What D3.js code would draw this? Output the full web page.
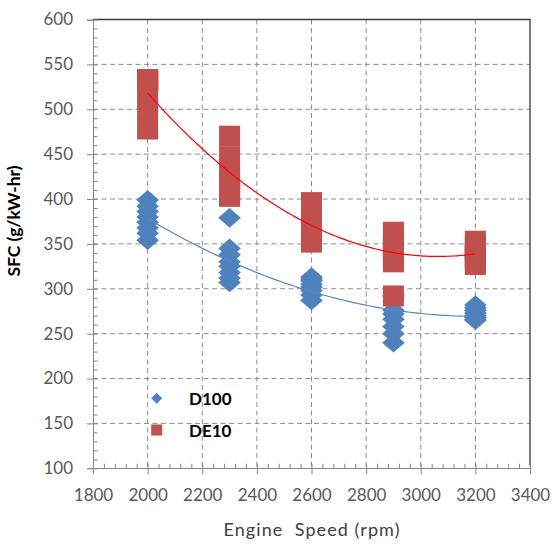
<!DOCTYPE html>
<html>
<head>
<meta charset="utf-8">
<script src="https://cdn.jsdelivr.net/npm/d3@7"></script>
<style>
  body { margin: 0; background: #fff; }
  text { font-family: Lato, "Liberation Sans", sans-serif; }
</style>
</head>
<body>
<script>
// Engine speeds (rpm) and SFC readings (g/kW-hr) at each speed
const speeds = [2000, 2300, 2600, 2900, 3200]
const d100 = [
  [399, 392, 386, 380, 374, 368, 362, 354],
  [379, 345, 338, 330, 325, 318, 312, 307],
  [313, 311, 309, 305, 302, 298, 293, 287],
  [240, 250, 258, 266, 272, 276, 292, 292],
  [282, 279, 276, 273, 270, 268, 266, 265]
]
const de10 = [
  [478, 500, 520, 530, 532, 533, 533, 533],
  [403, 405, 410, 415, 420, 425, 447, 470],
  [352, 360, 368, 375, 380, 385, 390, 396],
  [292, 330, 335, 340, 345, 350, 356, 363],
  [327, 330, 333, 336, 340, 344, 348, 353]
]
const xTicks = d3.range(1800, 3401, 200)
const yTicks = d3.range(100, 601, 50)
const seriesNames = ['D100', 'DE10']

const blue = '#4F81BD'
const red = '#C0504D'

// Size and margins
const W = 553, H = 545
const margin = { top: 19.5, right: 23, bottom: 76.7, left: 93 }
const width = W - margin.left - margin.right
const height = H - margin.top - margin.bottom

const svg = d3.select('body').append('svg')
    .attr('width', W)
    .attr('height', H)
    .style('background-color', '#fff')

const g = svg.append('g')
    .attr('transform', `translate(${margin.left},${margin.top})`)

const xScale = d3.scaleLinear().domain([1800, 3400]).range([0, width])
const yScale = d3.scaleLinear().domain([100, 600]).range([height, 0])

// flatten groups into points
const toPoints = arr => speeds.flatMap((s, i) => arr[i].map(v => ({ x: s, y: v })))
const ptsD100 = toPoints(d100)
const ptsDE10 = toPoints(de10)

// Gridlines
g.append('g').selectAll('line')
    .data(yTicks.filter(v => v > 100 && v < 600))
    .enter().append('line')
    .attr('x1', 0).attr('x2', width)
    .attr('y1', d => yScale(d)).attr('y2', d => yScale(d))
    .style('stroke', '#8c8c8c')
    .style('stroke-dasharray', '5,3.5')

g.append('g').selectAll('line')
    .data(xTicks.filter(v => v > 1800 && v < 3400))
    .enter().append('line')
    .attr('y1', 0).attr('y2', height)
    .attr('x1', d => xScale(d)).attr('x2', d => xScale(d))
    .style('stroke', '#8c8c8c')
    .style('stroke-dasharray', '5,3.5')

// Border top / right
g.append('path')
    .attr('d', `M0,0H${width}V${height - 3}`)
    .style('fill', 'none')
    .style('stroke', '#3a3a3a')
    .style('stroke-width', 1.3)

// Axes
const axisColor = '#868686'
const labelColor = '#595959'
const fmt = d3.format('d')

const yAxis = g.append('g')
    .call(d3.axisLeft(yScale).tickValues(yTicks).tickSize(6).tickPadding(14).tickFormat(fmt))
const yMinor = g.append('g')
    .call(d3.axisRight(yScale).tickValues(d3.range(100, 601, 10)).tickSize(4.5).tickFormat(''))
const xAxis = g.append('g')
    .attr('transform', `translate(0,${height})`)
    .call(d3.axisBottom(xScale).tickValues(xTicks).tickSize(6).tickPadding(15).tickFormat(fmt))
const xMinor = g.append('g')
    .attr('transform', `translate(0,${height})`)
    .call(d3.axisTop(xScale).tickValues(d3.range(1800, 3401, 40)).tickSize(4.5).tickFormat(''))

;[yAxis, yMinor, xAxis, xMinor].forEach(a => {
    a.select('.domain').style('stroke', axisColor).attr('shape-rendering', 'crispEdges')
    a.selectAll('.tick line').style('stroke', axisColor)
    a.selectAll('text')
        .style('font-size', '17px')
        .style('fill', labelColor)
})
yMinor.select('.domain').remove()
xMinor.select('.domain').remove()

// Markers
const diamond = 'M0,-9.8L11.3,0L0,9.8L-11.3,0Z'
g.append('g').selectAll('path')
    .data(ptsD100)
    .enter().append('path')
    .attr('d', diamond)
    .attr('transform', d => `translate(${xScale(d.x)},${yScale(d.y)})`)
    .style('fill', blue)

g.append('g').selectAll('rect')
    .data(ptsDE10)
    .enter().append('rect')
    .attr('x', d => xScale(d.x) - 10.5)
    .attr('y', d => yScale(d.y) - 10.5)
    .attr('width', 21)
    .attr('height', 21)
    .style('fill', red)

// Polynomial (order 2) trendlines, least squares
function quadFit(pts) {
    const x0 = d3.mean(pts, p => p.x), sc = 300
    const S = [[0, 0, 0], [0, 0, 0], [0, 0, 0]], B = [0, 0, 0]
    pts.forEach(p => {
        const t = (p.x - x0) / sc, v = [1, t, t * t]
        for (let i = 0; i < 3; i++) {
            B[i] += v[i] * p.y
            for (let j = 0; j < 3; j++) S[i][j] += v[i] * v[j]
        }
    })
    // gaussian elimination
    const M = S.map((r, i) => [...r, B[i]])
    for (let i = 0; i < 3; i++) {
        let piv = i
        for (let k = i + 1; k < 3; k++) if (Math.abs(M[k][i]) > Math.abs(M[piv][i])) piv = k
        ;[M[i], M[piv]] = [M[piv], M[i]]
        for (let k = i + 1; k < 3; k++) {
            const f = M[k][i] / M[i][i]
            for (let j = i; j < 4; j++) M[k][j] -= f * M[i][j]
        }
    }
    const c = [0, 0, 0]
    for (let i = 2; i >= 0; i--) {
        let s = M[i][3]
        for (let j = i + 1; j < 3; j++) s -= M[i][j] * c[j]
        c[i] = s / M[i][i]
    }
    return x => { const t = (x - x0) / sc; return c[0] + c[1] * t + c[2] * t * t }
}

const [xMin, xMax] = d3.extent(speeds)
const trendX = d3.range(xMin, xMax + 0.1, 10)
const line = d3.line().x(d => xScale(d[0])).y(d => yScale(d[1])).curve(d3.curveLinear)

;[[ptsD100, '#5585c5'], [ptsDE10, '#ff0000']].forEach(([pts, col]) => {
    const f = quadFit(pts)
    g.append('path')
        .datum(trendX.map(x => [x, f(x)]))
        .attr('d', line)
        .style('fill', 'none')
        .style('stroke', col)
        .style('stroke-width', 1.2)
})

// Legend
const legend = svg.append('g')
legend.append('path')
    .attr('d', 'M0,-5.5L5.5,0L0,5.5L-5.5,0Z')
    .attr('transform', 'translate(156.7,398.3)')
    .style('fill', blue)
legend.append('rect')
    .attr('x', 151.2).attr('y', 424.5)
    .attr('width', 11).attr('height', 11)
    .style('fill', red)
legend.selectAll('text')
    .data(seriesNames)
    .enter().append('text')
    .attr('x', 189)
    .attr('y', (d, i) => 404.5 + i * 32)
    .style('font-size', '17px')
    .style('font-weight', 'bold')
    .style('fill', '#000')
    .text(d => d)

// Axis titles
svg.append('text')
    .attr('x', margin.left + width / 2)
    .attr('y', 536)
    .attr('text-anchor', 'middle')
    .attr('textLength', 176)
    .attr('lengthAdjust', 'spacing')
    .style('font-size', '18px')
    .style('fill', '#404040')
    .style('white-space', 'pre')
    .text('Engine  Speed (rpm)')

svg.append('text')
    .attr('transform', 'translate(20,221) rotate(-90)')
    .attr('text-anchor', 'middle')
    .attr('textLength', 111)
    .attr('lengthAdjust', 'spacing')
    .style('font-size', '17.5px')
    .style('font-weight', 'bold')
    .style('fill', '#000')
    .text('SFC (g/kW-hr)')
</script>
</body>
</html>
